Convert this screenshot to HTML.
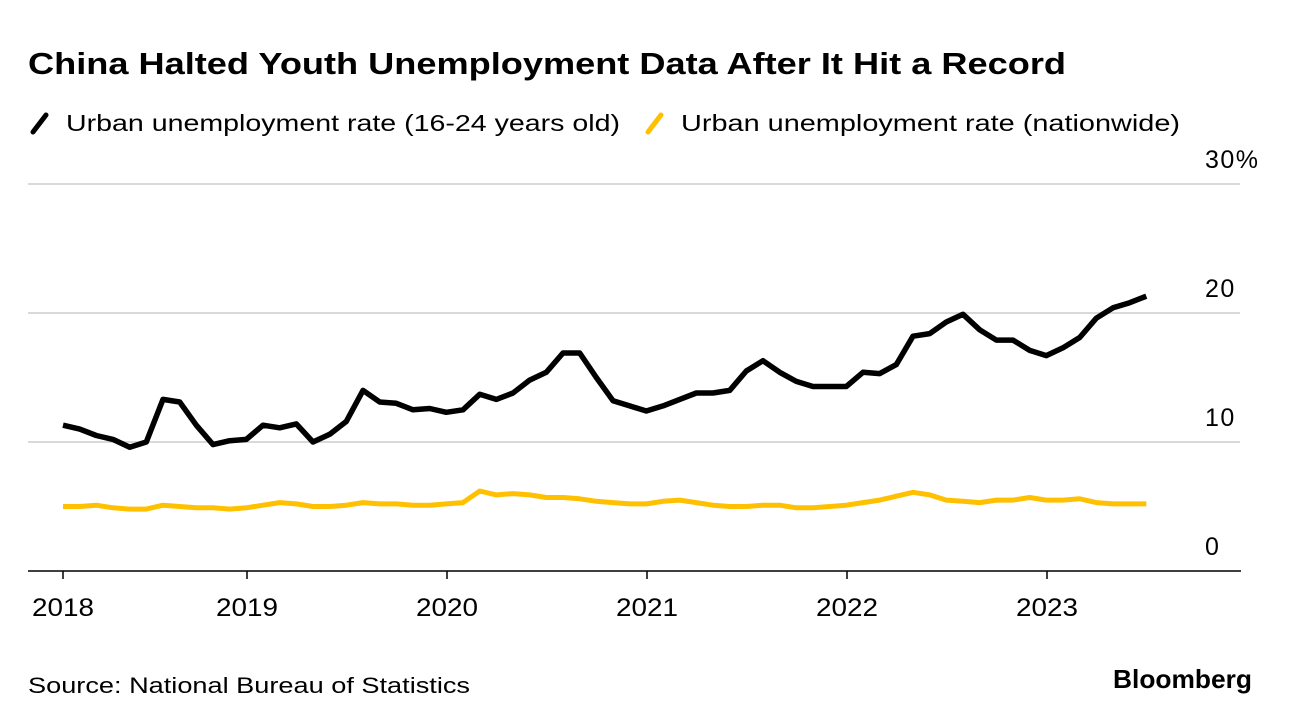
<!DOCTYPE html>
<html><head><meta charset="utf-8"><style>
html,body{margin:0;padding:0;background:#fff;}
svg{display:block;font-family:"Liberation Sans",Arial,sans-serif;}
</style></head><body>
<svg id="chart" width="1292" height="726" viewBox="0 0 1292 726">
<text x="28" y="74" font-size="31" font-weight="bold" fill="#000" textLength="1038" lengthAdjust="spacingAndGlyphs">China Halted Youth Unemployment Data After It Hit a Record</text>
<g>
<g>
<line x1="33" y1="132" x2="46" y2="115" stroke="#000" stroke-width="5" stroke-linecap="round"/>
<text x="66" y="131" font-size="23" fill="#000" textLength="554" lengthAdjust="spacingAndGlyphs">Urban unemployment rate (16-24 years old)</text>
</g>
<g>
<line x1="648" y1="132" x2="661" y2="115" stroke="#ffc000" stroke-width="5" stroke-linecap="round"/>
<text x="681" y="131" font-size="23" fill="#000" textLength="499" lengthAdjust="spacingAndGlyphs">Urban unemployment rate (nationwide)</text>
</g>
</g>
<g id="grid"></g>
<g id="ylabels"></g>
<g id="xaxis"></g>
<g id="series"></g>
<text x="28" y="693" font-size="22" fill="#000" textLength="442" lengthAdjust="spacingAndGlyphs">Source: National Bureau of Statistics</text>
<text x="1113" y="688" font-size="26" font-weight="bold" fill="#000" textLength="139" lengthAdjust="spacingAndGlyphs">Bloomberg</text>
</svg>
<script>
const startYear = 2018;
const youth = [11.3,11.0,10.5,10.2,9.6,10.0,13.3,13.1,11.3,9.8,10.1,10.2,
11.3,11.1,11.4,10.0,10.6,11.6,14.0,13.1,13.0,12.5,12.6,12.3,
12.5,13.7,13.3,13.8,14.8,15.4,16.9,16.9,15.0,13.2,12.8,12.4,
12.8,13.3,13.8,13.8,14.0,15.5,16.3,15.4,14.7,14.3,14.3,14.3,
15.4,15.3,16.0,18.2,18.4,19.3,19.9,18.7,17.9,17.9,17.1,16.7,
17.3,18.1,19.6,20.4,20.8,21.3];
const nationwide = [5.0,5.0,5.1,4.9,4.8,4.8,5.1,5.0,4.9,4.9,4.8,4.9,
5.1,5.3,5.2,5.0,5.0,5.1,5.3,5.2,5.2,5.1,5.1,5.2,
5.3,6.2,5.9,6.0,5.9,5.7,5.7,5.6,5.4,5.3,5.2,5.2,
5.4,5.5,5.3,5.1,5.0,5.0,5.1,5.1,4.9,4.9,5.0,5.1,
5.3,5.5,5.8,6.1,5.9,5.5,5.4,5.3,5.5,5.5,5.7,5.5,
5.5,5.6,5.3,5.2,5.2,5.2];
const yTicks = [0,10,20,30];
const yTickLabels = ["0","10","20","30%"];
const xTickYears = [2018,2019,2020,2021,2022,2023];

const NS = "http://www.w3.org/2000/svg";
const x0 = 1047, pxPerYear = 200, baseY = 571, pxPerUnit = 12.9;
function tOf(i){ return startYear + (i + 0.96) / 12; }
const tMin = tOf(0);
function xScale(t){ return x0 + (t - 2023) * pxPerYear; }
function yScale(v){ return baseY - v * pxPerUnit; }
function mk(tag, attrs, parent){ const e=document.createElementNS(NS,tag); for(const k in attrs) e.setAttribute(k,attrs[k]); parent.appendChild(e); return e; }

const grid=document.getElementById('grid'), yl=document.getElementById('ylabels');
yTicks.forEach((v,i)=>{
  if(v>0){
    const l=mk('line',{x1:28,x2:1240,y1:yScale(v),y2:yScale(v),stroke:'#d9d9d9','stroke-width':2},grid);
    
    
  }
  const t=mk('text',{x:1205,y:yScale(v)-16,'font-size':25,'letter-spacing':1.5,fill:'#000'},yl);
  t.textContent=yTickLabels[i];
  
  
});
const xa=document.getElementById('xaxis');
const ax=mk('line',{x1:28,x2:1241,y1:baseY,y2:baseY,stroke:'#000','stroke-width':1.5},xa);


xTickYears.forEach(yr=>{
  const x=xScale(Math.max(yr,tMin));
  const tk=mk('line',{x1:x,x2:x,y1:baseY,y2:baseY+8,stroke:'#000','stroke-width':1.5},xa);
  
  
  const t=mk('text',{x:x-31,y:616,'font-size':25,fill:'#000',textLength:62,lengthAdjust:'spacingAndGlyphs'},xa);
  t.textContent=String(yr);
  
  
});
const sg=document.getElementById('series');
function path(arr){ return arr.map((v,i)=>(i?'L':'M')+xScale(tOf(i)).toFixed(1)+','+yScale(v).toFixed(1)).join(''); }
const pN=mk('path',{d:path(nationwide),fill:'none',stroke:'#ffc000','stroke-width':5,'stroke-linejoin':'round'},sg);


const pY=mk('path',{d:path(youth),fill:'none',stroke:'#000','stroke-width':5.5,'stroke-linejoin':'round'},sg);


</script>
</body></html>
